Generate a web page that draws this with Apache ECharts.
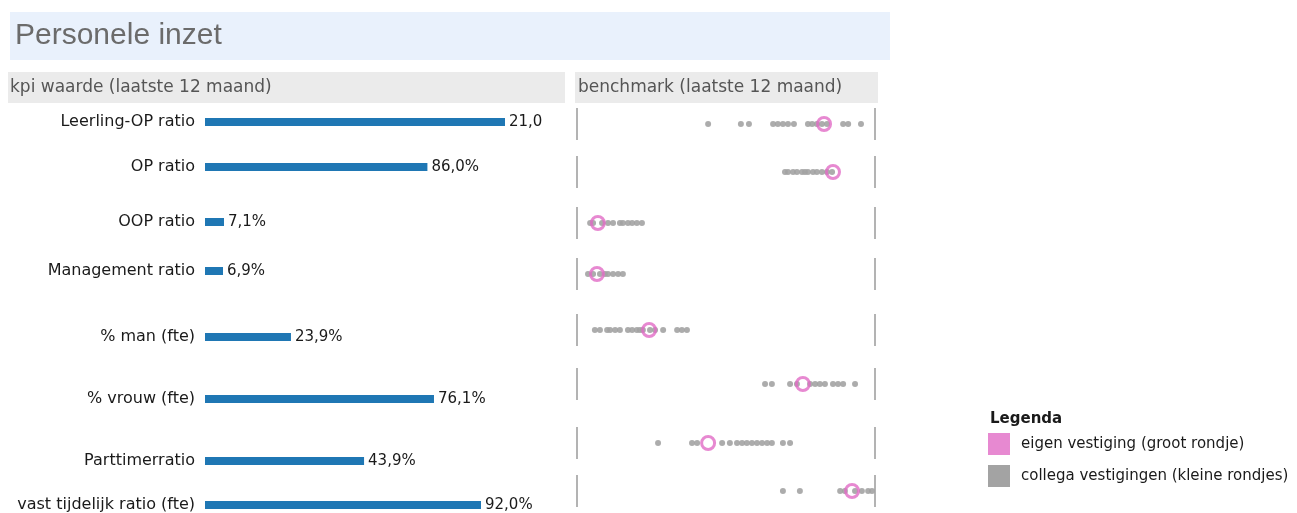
<!DOCTYPE html>
<html>
<head>
<meta charset="utf-8">
<script src="https://cdn.jsdelivr.net/npm/echarts@6/dist/echarts.min.js"></script>
<style>html,body{margin:0;padding:0;background:#fff}#c{width:1297px;height:513px}</style>
</head>
<body>
<div id="c"></div>
<script>
// ---- data ----
const categories = ['Leerling-OP ratio','OP ratio','OOP ratio','Management ratio','% man (fte)','% vrouw (fte)','Parttimerratio','vast tijdelijk ratio (fte)'];
const kpiValues = [21.0, 86.0, 7.1, 6.9, 23.9, 76.1, 43.9, 92.0];
const kpiSuffix = ['', '%', '%', '%', '%', '%', '%', '%'];
const kpiAxisMax = [21, 116, 112, 115, 83.4, 99.7, 82.8, 100];
// benchmark positions (0-100 scale of each benchmark strip)
const ownBenchmark = [82.9, 85.9, 7.0, 6.7, 24.2, 75.8, 44.0, 92.3];
const peers1 = [44.0, 55.0, 57.7, 65.8, 67.4, 69.1, 70.8, 72.8, 77.5, 78.9, 80.5, 82.2, 83.9, 89.3, 91.0, 95.3];
const peers2 = [69.8, 70.8, 72.5, 73.8, 75.5, 76.5, 77.5, 79.2, 80.5, 82.2, 83.9, 85.6];
const peers3 = [4.4, 5.4, 8.4, 10.4, 12.1, 14.4, 15.4, 17.1, 18.5, 20.1, 21.8];
const peers4 = [3.7, 5.4, 7.7, 9.4, 10.4, 12.1, 13.8, 15.4];
const peers5 = [6.0, 7.7, 10.1, 11.1, 12.8, 14.4, 17.1, 18.5, 20.1, 21.1, 22.1, 24.5, 26.2, 28.9, 33.6, 35.2, 36.9];
const peers6 = [63.1, 65.4, 71.5, 73.8, 78.2, 79.9, 81.5, 83.2, 85.9, 87.6, 89.3, 93.3];
const peers7 = [27.2, 38.6, 40.3, 48.7, 51.3, 53.7, 55.4, 57.0, 58.7, 60.4, 62.1, 63.8, 65.4, 69.1, 71.5];
const peers8 = [69.1, 74.8, 88.3, 89.9, 93.3, 95.6, 97.7, 99.0];
const peerLists = [peers1, peers2, peers3, peers4, peers5, peers6, peers7, peers8];
const legendNames = ['eigen vestiging (groot rondje)', 'collega vestigingen (kleine rondjes)'];

// ---- layout ----
const barCenters = [122, 167, 222, 271, 337, 399, 461, 508];
const benchTops = [108, 156, 207, 258, 314, 368, 427, 475];
const PINK = '#e16bc6', GREY = '#a3a3a3', BLUE = '#1f77b4';
const LABEL_FONT = '"DejaVu Sans", sans-serif';

const grids = [], xAxes = [], yAxes = [], series = [];
categories.forEach((cat, i) => {
  // left bar grid
  grids.push({left: 205, width: 300, top: barCenters[i] - 10, height: 20, containLabel: false});
  xAxes.push({gridIndex: grids.length - 1, type: 'value', min: 0, max: kpiAxisMax[i], show: false});
  yAxes.push({gridIndex: grids.length - 1, type: 'category', data: [cat],
    axisLine: {show: false}, axisTick: {show: false},
    axisLabel: {margin: 10, fontSize: 16, color: '#1a1a1a', fontFamily: LABEL_FONT, padding: [0, 0, 3, 0]}});
  series.push({type: 'bar', xAxisIndex: xAxes.length - 1, yAxisIndex: yAxes.length - 1,
    data: [kpiValues[i]], barWidth: 8, itemStyle: {color: BLUE}, silent: true,
    label: {show: true, position: 'right', distance: 4, fontSize: 15, color: '#1a1a1a', fontFamily: LABEL_FONT,
      formatter: p => p.value.toFixed(1).replace('.', ',') + kpiSuffix[i]}});
  // benchmark grid
  grids.push({left: 577, width: 298, top: benchTops[i], height: 32});
  xAxes.push({gridIndex: grids.length - 1, type: 'value', min: 0, max: 100, interval: 100,
    axisLine: {show: false}, axisTick: {show: false}, axisLabel: {show: false},
    splitLine: {show: true, lineStyle: {color: '#b3b3b3', width: 2}}});
  yAxes.push({gridIndex: grids.length - 1, type: 'value', min: -1, max: 1, show: false});
  series.push({type: 'scatter', name: legendNames[1], xAxisIndex: xAxes.length - 1, yAxisIndex: yAxes.length - 1,
    data: peerLists[i].map(v => [v, 0]), symbolSize: 6, itemStyle: {color: GREY, opacity: 0.9}, z: 3, silent: true});
  series.push({type: 'scatter', name: legendNames[0], xAxisIndex: xAxes.length - 1, yAxisIndex: yAxes.length - 1,
    data: [[ownBenchmark[i], 0]], symbolSize: 13,
    itemStyle: {color: 'rgba(255,255,255,0)', borderColor: PINK, borderWidth: 3}, z: 4, silent: true});
});

const chart = echarts.init(document.getElementById('c'), null, {renderer: 'canvas'});
chart.setOption({
  animation: false,
  grid: grids, xAxis: xAxes, yAxis: yAxes, series: series,
  legend: {orient: 'vertical', left: 983, top: 428, itemWidth: 22, itemHeight: 22, itemGap: 10,
    selectedMode: false,
    textStyle: {fontSize: 15, color: '#1a1a1a', fontFamily: LABEL_FONT, padding: [0, 0, 0, 6]},
    data: [
      {name: legendNames[0], icon: 'rect', itemStyle: {color: PINK, borderWidth: 0}},
      {name: legendNames[1], icon: 'rect', itemStyle: {color: GREY, borderWidth: 0, opacity: 1}}
    ]},
  graphic: [
    {type: 'rect', shape: {x: 10, y: 12, width: 880, height: 48}, style: {fill: '#e9f1fc'}, silent: true},
    {type: 'text', x: 15, y: 36, style: {text: 'Personele inzet', font: '30px "Liberation Sans", Arial, sans-serif', fill: '#6b6b6b', verticalAlign: 'middle'}, silent: true},
    {type: 'rect', shape: {x: 8, y: 72, width: 557, height: 31}, style: {fill: '#ebebeb'}, silent: true},
    {type: 'text', x: 10, y: 88, style: {text: 'kpi waarde (laatste 12 maand)', font: '17px ' + LABEL_FONT, fill: '#555', verticalAlign: 'middle'}, silent: true},
    {type: 'rect', shape: {x: 575, y: 72, width: 303, height: 31}, style: {fill: '#ebebeb'}, silent: true},
    {type: 'text', x: 578, y: 88, style: {text: 'benchmark (laatste 12 maand)', font: '17px ' + LABEL_FONT, fill: '#555', verticalAlign: 'middle'}, silent: true},
    {type: 'text', x: 990, y: 419, style: {text: 'Legenda', font: 'bold 15px ' + LABEL_FONT, fill: '#1a1a1a', verticalAlign: 'middle'}, silent: true}
  ]
});
</script>
</body>
</html>
